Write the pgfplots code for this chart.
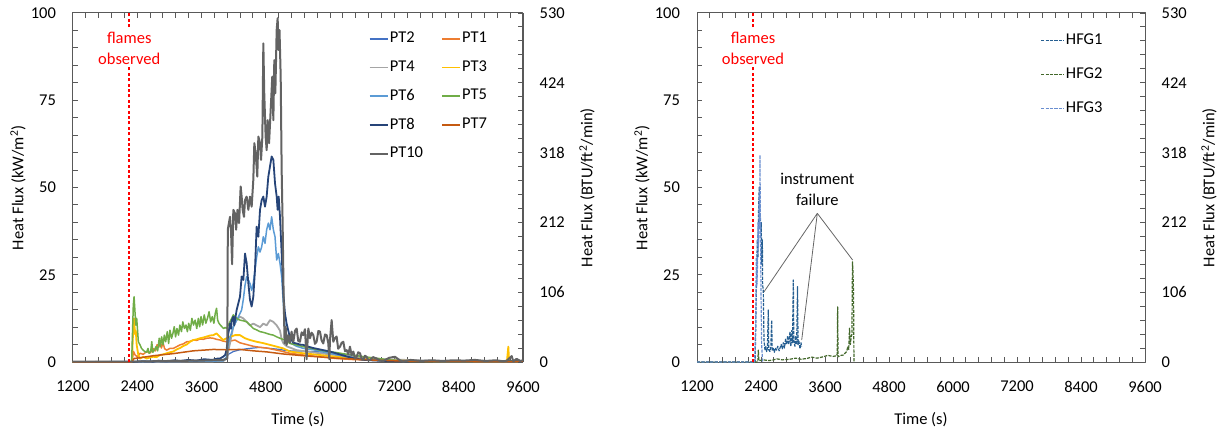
\documentclass[border=0pt]{standalone}
\usepackage{fontspec}
\setmainfont{Carlito}
\usepackage{pgfplots}
\pgfplotsset{compat=1.18}
\definecolor{cPTii}{HTML}{4472C4}
\definecolor{cPTi}{HTML}{ED7D31}
\definecolor{cPTiv}{HTML}{A5A5A5}
\definecolor{cPTiii}{HTML}{FFC000}
\definecolor{cPTvi}{HTML}{5B9BD5}
\definecolor{cPTv}{HTML}{70AD47}
\definecolor{cPTviii}{HTML}{264478}
\definecolor{cPTvii}{HTML}{C55A11}
\definecolor{cPTx}{HTML}{636363}
\definecolor{cHFGi}{HTML}{255E91}
\definecolor{cHFGii}{HTML}{43682B}
\definecolor{cHFGiii}{HTML}{698ED0}
\definecolor{axframe}{HTML}{595959}
\definecolor{flamered}{HTML}{FF0000}
\newcommand{\fs}{\fontsize{8.25}{10.5}\selectfont}
\tikzset{flameline/.style={draw=flamered, color=flamered, line width=0.8pt, dash pattern=on 1.5pt off 1.2pt}}
\pgfplotsset{
  hfbase/.style={scale only axis, height=174.5pt, xmin=1200, xmax=9600,
    tick align=inside, major tick length=2.5pt, minor tick length=2.5pt,
    axis line style={axframe, line width=0.5pt},
    every tick/.style={axframe, line width=0.5pt},
    font=\fs, tick label style={font=\fs},
    /pgf/number format/assume math mode=true, /pgf/number format/1000 sep={},
    clip=true, line join=round},
  hf/.style={hfbase, ymin=0, ymax=100,
    xtick={1200,2400,3600,4800,6000,7200,8400,9600}, minor x tick num=4,
    ytick={0,25,50,75,100}, minor y tick num=4,
    xtick pos=both, ytick pos=left,
    xticklabel style={yshift=-6pt}, yticklabel style={xshift=-5pt},
    xlabel={Time (s)}, ylabel={Heat Flux (kW/m\textsuperscript{2})},
    every axis x label/.style={at={(rel axis cs:0.5,0)}, anchor=center, yshift=-29pt},
    every axis y label/.style={at={(rel axis cs:0,0.5)}, anchor=center, xshift=-27.5pt, rotate=90}},
  hftwo/.style={hfbase, ymin=0, ymax=530, axis x line=none, axis y line*=right,
    ytick={0,106,212,318,424,530}, minor y tick num=4,
    yticklabel style={xshift=4.8pt},
    ylabel={Heat Flux (BTU/ft\textsuperscript{2}/min)},
    every axis y label/.style={at={(rel axis cs:1,0.5)}, anchor=center, xshift=32pt, rotate=90}},
}
\begin{document}
\begin{tikzpicture}
\path[use as bounding box] (-36.5pt,-36pt) rectangle (576pt,181pt);
% ================= LEFT PANEL =================
\begin{axis}[hf, at={(0pt,0pt)}, anchor=south west, width=225pt,
  legend columns=2,
  legend style={at={(rel axis cs:0.656,0.95)}, anchor=north west, draw=none, fill=none,
    font=\fs, row sep=6.2pt, inner sep=0pt,
    nodes={inner sep=0.6pt, anchor=west},
    /tikz/every even column/.append style={column sep=8.5pt}},
  legend image code/.code={\draw[#1] (0pt,0pt) -- (9pt,0pt);}]
% PT2
\addplot[cPTii, line width=0.6pt] coordinates {
(1200,0) (2300,0) (3000,0.1) (3800,0.3) (4000,0.5) (4069,1.2) (4100,2.2) (4193,3.0) (4317,3.5) (4442,3.8) (4566,4.0) (4691,4.2) (4815,4.0) (4940,3.8) (5064,3.6) (5126,3.4) (5250,3.2) (5499,3.1) (5810,2.9) (6121,2.5) (6433,1.8) (6744,1.0) (7000,0.5) (7500,0.2) (9600,0.1)};
\addlegendentry{PT2}
% PT1
\addplot[cPTi, line width=0.75pt] coordinates {
(1200,0) (2300,0) (2330,3.0) (2360,2.0) (2400,1.5) (2451,2.5) (2510,2.2) (2575,3.0) (2640,2.6) (2700,3.8) (2740,3.2) (2770,5.0) (2800,4.2) (2825,5.8) (2850,4.0) (2880,5.6) (2910,3.8) (2949,3.4) (3010,3.9) (3073,3.9) (3135,4.4) (3197,4.9) (3260,5.2) (3322,5.8) (3384,5.9) (3446,6.3) (3510,6.2) (3571,6.6) (3630,6.5) (3696,6.8) (3760,6.9) (3819,6.8) (3880,6.5) (3944,6.3) (4000,6.0) (4069,5.8) (4131,6.0) (4224,6.3) (4317,5.5) (4442,5.0) (4566,4.5) (4691,4.2) (4815,4.0) (4940,3.6) (5064,3.2) (5250,2.5) (5499,2.0) (5810,1.5) (6121,1.0) (6433,0.7) (7000,0.4) (8000,0.2) (9600,0.2)};
\addlegendentry{PT1}
% PT4
\addplot[cPTiv, line width=0.9pt] coordinates {
(1200,0) (4000,0.2) (4068,1.0) (4131,5.4) (4193,10.1) (4255,12.0) (4317,13.0) (4380,12.5) (4442,11.5) (4504,10.5) (4566,11.0) (4628,10.5) (4691,10.0) (4753,11.0) (4815,10.5) (4877,12.0) (4940,11.5) (5002,10.5) (5064,9.0) (5095,6.5) (5126,5.4) (5188,4.5) (5375,3.4) (5810,2.5) (6433,1.5) (7000,0.8) (8000,0.3) (9600,0.2)};
\addlegendentry{PT4}
% PT3
\addplot[cPTiii, line width=0.9pt] coordinates {
(1200,0) (2300,0) (2315,6.0) (2326,10.6) (2340,12.5) (2357,8.0) (2372,9.0) (2389,4.9) (2420,2.0) (2451,1.0) (2510,1.5) (2575,1.0) (2640,1.3) (2700,1.5) (2760,1.4) (2824,2.0) (2886,2.2) (2949,2.5) (3010,2.8) (3073,3.0) (3135,3.6) (3197,4.0) (3260,4.6) (3322,5.0) (3384,5.8) (3446,6.3) (3510,6.5) (3571,6.8) (3630,7.0) (3696,7.3) (3760,7.6) (3819,7.7) (3880,8.2) (3944,7.2) (4000,6.3) (4069,6.8) (4131,7.2) (4224,7.7) (4317,7.7) (4411,6.8) (4504,6.3) (4628,5.8) (4753,5.4) (4877,4.9) (5002,4.4) (5126,3.9) (5250,3.0) (5499,2.5) (5810,2.0) (6121,1.5) (6433,1.1) (6744,0.8) (7200,0.4) (8000,0.2) (9300,0.2) (9326,4.4) (9340,0.3) (9600,0.2)};
\addlegendentry{PT3}
% PT6
\addplot[cPTvi, line width=0.75pt] coordinates {
(1200,0) (4000,0.3) (4068,1.5) (4100,5.4) (4193,10.1) (4286,12.9) (4348,14.9) (4380,18.0) (4411,22.0) (4442,24.5) (4473,23.5) (4504,22.5) (4535,20.5) (4566,22.6) (4597,26.4) (4628,30.0) (4660,33.0) (4691,31.5) (4722,33.0) (4753,35.9) (4784,34.0) (4815,37.9) (4846,39.8) (4877,37.9) (4908,41.6) (4940,37.9) (4971,35.9) (5002,29.2) (5033,31.1) (5064,28.3) (5095,24.5) (5126,16.8) (5157,10.1) (5200,6.5) (5250,5.5) (5375,4.5) (5499,3.9) (5686,3.5) (5997,2.5) (6308,1.5) (6620,0.8) (7000,0.4) (8000,0.2) (9600,0.2)};
\addlegendentry{PT6}
% PT5
\addplot[cPTv, line width=0.75pt] coordinates {
(1200,0) (2295,0) (2310,8.0) (2326,16.3) (2340,18.7) (2357,14.4) (2372,10.6) (2389,12.5) (2420,5.8) (2451,4.9) (2480,3.9) (2510,3.4) (2540,3.0) (2575,2.8) (2600,3.9) (2620,2.5) (2650,3.0) (2670,5.8) (2690,2.8) (2720,3.4) (2750,4.4) (2780,3.2) (2810,6.8) (2830,4.4) (2855,7.2) (2880,4.9) (2905,7.7) (2930,5.8) (2960,8.7) (2985,5.3) (3010,9.1) (3040,6.8) (3065,8.2) (3090,10.1) (3115,7.2) (3140,9.6) (3170,7.7) (3195,10.6) (3225,8.7) (3250,11.5) (3280,9.6) (3310,10.6) (3335,8.7) (3360,11.1) (3390,9.1) (3420,12.5) (3450,10.6) (3480,12.0) (3510,9.6) (3540,12.5) (3565,10.1) (3590,13.0) (3620,10.6) (3650,13.5) (3680,11.1) (3710,12.5) (3740,14.4) (3770,11.5) (3800,13.0) (3830,11.1) (3855,13.9) (3880,15.4) (3900,12.0) (3925,11.1) (3950,10.6) (3980,10.1) (4010,9.6) (4040,9.9) (4069,9.6) (4100,10.6) (4131,11.5) (4162,12.5) (4193,13.5) (4224,13.0) (4255,12.5) (4286,12.2) (4317,12.0) (4380,11.8) (4442,11.5) (4504,10.6) (4566,9.6) (4628,9.2) (4691,8.7) (4753,8.5) (4815,8.2) (4877,7.9) (4940,7.7) (5002,7.2) (5064,6.8) (5157,6.3) (5250,5.3) (5375,4.9) (5499,4.4) (5655,3.9) (5810,3.4) (5965,3.0) (6121,2.7) (6277,2.3) (6433,2.0) (6590,1.6) (6744,1.3) (6900,1.0) (7100,0.6) (7500,0.2) (9600,0.2)};
\addlegendentry{PT5}
% PT8
\addplot[cPTviii, line width=0.9pt] coordinates {
(1200,0) (2300,0) (2500,0.2) (2700,0.1) (2800,0.4) (2950,0.2) (3100,0.5) (3200,0.3) (3350,0.6) (3500,0.4) (3650,0.8) (3800,0.6) (3900,1.0) (3944,1.0) (4000,1.5) (4040,2.0) (4068,3.6) (4100,8.2) (4131,11.0) (4150,9.5) (4162,11.9) (4193,13.0) (4210,10.5) (4224,12.0) (4255,14.9) (4286,16.8) (4317,18.7) (4348,24.5) (4380,23.5) (4411,31.1) (4442,28.3) (4473,22.6) (4504,17.8) (4535,15.9) (4566,18.7) (4597,26.4) (4628,38.8) (4660,35.9) (4691,43.6) (4722,46.4) (4753,47.4) (4784,44.5) (4815,47.4) (4846,53.1) (4877,56.0) (4908,58.9) (4940,57.9) (4971,51.2) (5002,47.4) (5020,43.6) (5040,47.4) (5064,41.6) (5095,31.1) (5126,19.7) (5157,13.9) (5188,11.0) (5250,7.0) (5313,5.5) (5375,5.3) (5437,5.0) (5499,4.9) (5590,4.4) (5686,4.0) (5840,3.5) (5997,3.0) (6150,2.3) (6308,1.6) (6460,1.0) (6620,0.6) (7000,0.3) (7500,0.2) (8500,0.2) (9600,0.2)};
\addlegendentry{PT8}
% PT7
\addplot[cPTvii, line width=0.75pt] coordinates {
(1200,0) (2300,0) (2340,1.0) (2450,1.2) (2700,1.8) (3073,2.4) (3446,3.2) (3819,3.6) (4069,3.5) (4317,3.6) (4566,3.2) (4815,2.9) (5126,2.3) (5499,1.8) (6121,1.1) (6744,0.6) (7500,0.2) (9600,0.1)};
\addlegendentry{PT7}
% PT10
\addplot[cPTx, line width=1pt] coordinates {
(1200,0.1) (2250,0.1) (3000,0.3) (3600,0.4) (4000,0.6) (4080,1.0) (4090,38.0) (4131,41.6) (4150,37.5) (4170,28.0) (4193,43.6) (4224,42.6) (4245,37.9) (4270,43.6) (4300,39.8) (4330,50.3) (4348,47.4) (4367,43.6) (4392,41.6) (4411,46.4) (4442,47.4) (4473,43.6) (4504,47.4) (4535,44.5) (4566,52.2) (4585,62.7) (4610,59.8) (4640,53.1) (4660,64.6) (4691,62.7) (4710,57.9) (4735,64.6) (4753,91.3) (4770,77.0) (4796,64.6) (4815,60.7) (4834,69.3) (4860,62.7) (4890,72.2) (4920,81.8) (4940,69.3) (4958,86.5) (4977,77.0) (5002,95.1) (5020,98.5) (5040,89.4) (5055,95.1) (5077,81.8) (5095,55.0) (5114,38.8) (5133,17.8) (5150,5.4) (5170,10.1) (5188,4.9) (5220,7.7) (5250,5.5) (5280,8.7) (5313,5.8) (5345,9.0) (5375,9.6) (5405,6.0) (5437,5.8) (5468,8.5) (5499,7.7) (5530,9.4) (5561,0.8) (5575,4.9) (5593,9.6) (5624,6.8) (5655,8.4) (5686,7.7) (5717,5.2) (5748,5.8) (5780,8.9) (5810,8.7) (5840,6.2) (5872,5.3) (5905,7.9) (5935,7.7) (5965,5.4) (5985,0.8) (5997,6.3) (6028,12.0) (6059,5.8) (6090,6.9) (6121,7.3) (6150,3.8) (6184,4.4) (6215,5.5) (6246,5.8) (6277,3.1) (6308,3.4) (6340,2.2) (6370,4.4) (6400,2.0) (6433,3.0) (6464,1.0) (6495,1.5) (6525,2.8) (6557,2.5) (6590,0.9) (6619,0.6) (6650,1.8) (6681,1.5) (6712,0.5) (6744,0.6) (6800,1.4) (6868,1.0) (6930,0.4) (6992,0.3) (7100,1.2) (7210,1.5) (7300,0.5) (7366,0.1) (7500,0.6) (7700,0.3) (7900,0.5) (8100,0.3) (8300,0.5) (8500,0.4) (8700,0.6) (8900,0.3) (9100,0.5) (9231,0.2) (9300,0.4) (9388,1.7) (9420,0.2) (9480,0.9) (9550,0.3) (9600,0.5)};
\addlegendentry{PT10}
\end{axis}
\begin{axis}[hftwo, at={(0pt,0pt)}, anchor=south west, width=225pt]
\draw[flameline] (axis cs:2250,0) -- (axis cs:2250,530);
\node[fill=white, inner sep=1pt, text=flamered, align=center, font=\fs] at (axis cs:2250,476) {flames\\observed};
\end{axis}
% ================= RIGHT PANEL =================
\begin{axis}[hf, at={(312pt,0pt)}, anchor=south west, width=224pt,
  legend columns=1,
  legend style={at={(rel axis cs:0.766,0.945)}, anchor=north west, draw=none, fill=none,
    font=\fs, row sep=9pt, inner sep=0pt,
    nodes={inner sep=0.6pt, anchor=west}},
  legend image code/.code={\draw[#1] (0pt,0pt) -- (11.5pt,0pt);}]
% HFG1
\addplot[cHFGi, line width=0.6pt, dash pattern=on 1.6pt off 0.6pt] coordinates {
(1200,0) (2290,0) (2306,15) (2318,25) (2331,35) (2343,30) (2356,45) (2368,50.2) (2381,44.5) (2393,35.9) (2405,40) (2412,28) (2425,35) (2431,22) (2443,20.6) (2456,6.3) (2475,3.4) (2490,4.4) (2506,3.0) (2520,4.0) (2537,14.9) (2545,3.5) (2568,3.0) (2585,4.5) (2600,12.0) (2610,3.4) (2631,3.9) (2650,2.8) (2670,4.0) (2693,3.4) (2715,4.5) (2740,3.2) (2756,4.0) (2780,5.0) (2800,3.8) (2818,5.5) (2840,4.0) (2860,6.5) (2881,5.0) (2900,7.5) (2920,5.0) (2943,8.5) (2960,4.5) (2975,9.0) (2990,5.5) (3006,23.5) (3015,6.0) (3037,4.5) (3050,7.5) (3068,5.0) (3085,21.6) (3095,5.0) (3110,6.0) (3131,3.8) (3150,5.5) (3162,4.4)};
\addlegendentry{HFG1}
% HFG2
\addplot[cHFGii, line width=0.6pt, dash pattern=on 1.6pt off 0.6pt] coordinates {
(1200,0) (2340,0) (2350,3.4) (2360,0.4) (2450,0.6) (2550,0.4) (2631,0.6) (2700,0.9) (2800,0.6) (2943,0.8) (3050,1.1) (3150,0.8) (3256,1.0) (3350,1.4) (3450,1.1) (3568,1.5) (3650,1.9) (3750,1.6) (3818,1.8) (3830,2.4) (3837,15.8) (3845,1.5) (3900,1.9) (3943,2.0) (3980,2.6) (4006,3.0) (4030,4.5) (4045,3.6) (4060,9.7) (4075,5.0) (4090,7.0) (4105,8.0) (4115,28.7) (4125,26.0) (4135,20.0) (4143,0)};
\addlegendentry{HFG2}
% HFG3
\addplot[cHFGiii, line width=0.6pt, dash pattern=on 1.6pt off 0.6pt] coordinates {
(1200,0) (2280,0) (2300,10) (2312,30) (2322,22) (2331,25) (2340,36) (2345,40) (2355,33) (2362,44) (2368,48) (2375,38) (2381,59.3) (2386,45) (2390,40) (2400,20) (2412,5) (2430,0)};
\addlegendentry{HFG3}
\draw[black!60, line width=0.4pt] (axis cs:2456,20.1) -- (axis cs:3456,42.6) -- (axis cs:3163,6.3);
\draw[black!60, line width=0.4pt] (axis cs:3456,42.6) -- (axis cs:4119,29.2);
\node[inner sep=1pt, align=center, font=\fs] at (axis cs:3456,49.4) {instrument\\failure};
\end{axis}
\begin{axis}[hftwo, at={(312pt,0pt)}, anchor=south west, width=224pt]
\draw[flameline] (axis cs:2250,0) -- (axis cs:2250,530);
\node[fill=white, inner sep=1pt, text=flamered, align=center, font=\fs] at (axis cs:2250,476) {flames\\observed};
\end{axis}
\end{tikzpicture}
\end{document}
